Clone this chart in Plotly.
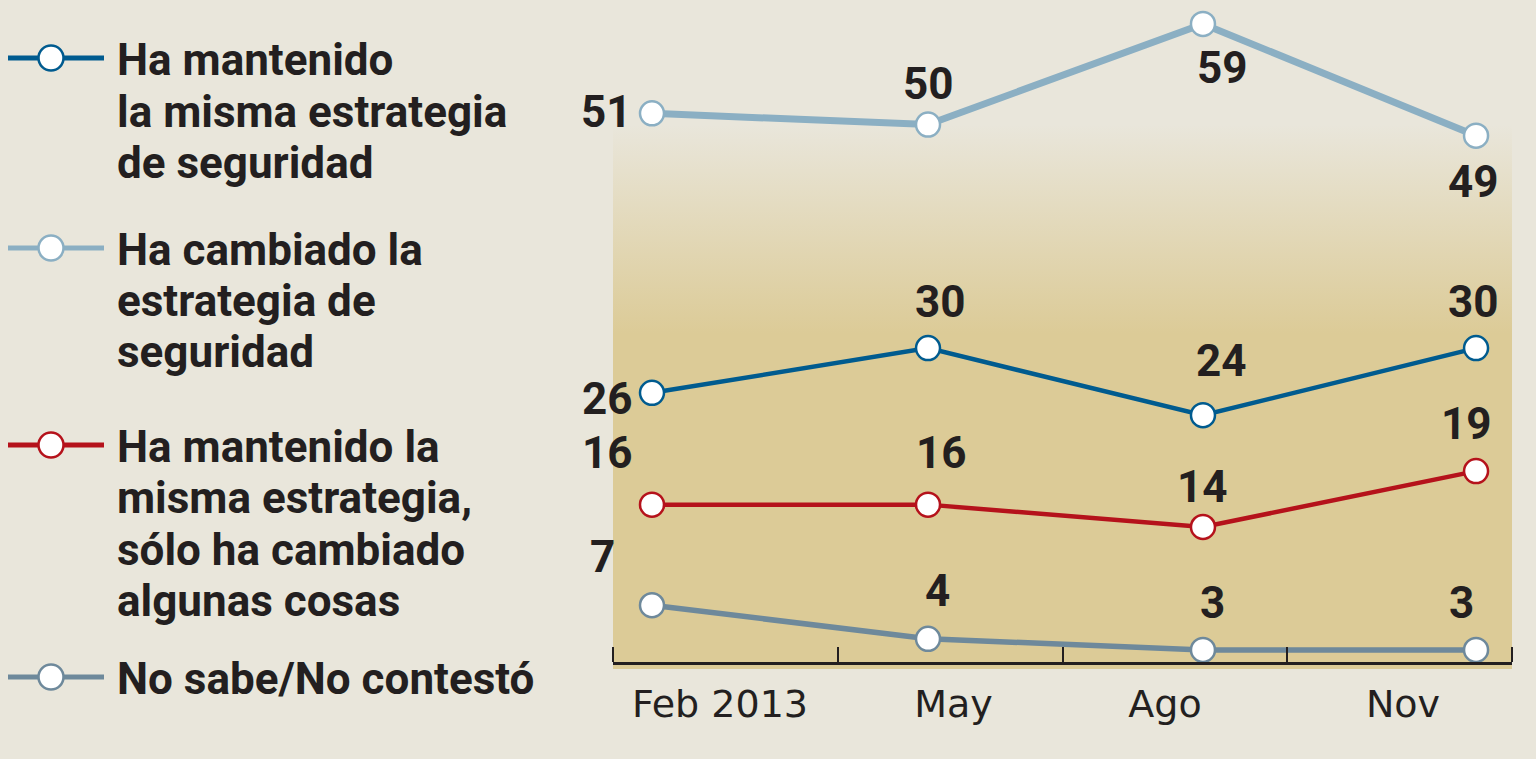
import plotly.graph_objects as go

# ---------------- data ----------------
periods = ["Feb 2013", "May", "Ago", "Nov"]
survey_pos = [0.1735, 1.4016, 2.625, 3.84]      # survey timing on the quarter axis
label_pos = [0.476, 1.515, 2.456, 3.515]        # where period names sit
quarter_edges = [0, 1, 2, 3, 4]

mantenido = [26, 30, 24, 30]
cambiado = [51, 50, 59, 49]
algunas = [16, 16, 14, 19]
no_sabe = [7, 4, 3, 3]

legend_mantenido = ["Ha mantenido", "la misma estrategia", "de seguridad"]
legend_cambiado = ["Ha cambiado la", "estrategia de", "seguridad"]
legend_algunas = ["Ha mantenido la", "misma estrategia,", "sólo ha cambiado", "algunas cosas"]
legend_no_sabe = ["No sabe/No contestó"]

# ---------------- style ----------------
BG = "#E9E6DB"
BAND = "#DCCB97"
INK = "#231F20"
W, H = 1536, 759
ML, MR, MT, MB = 613, 24, 0, 97
PW, PH = W - ML - MR, H - MT - MB
Y_RANGE = [1.923, 61.14]
NUM_FONT = dict(family="Roboto", size=44, color=INK, weight="bold")

series = [
    dict(name=" ".join(legend_cambiado), vals=cambiado, color="#8BAFC3", width=7,
         offs=[(-45, 1), (0, 41), (20, -44), (-3, -46)],
         legend=legend_cambiado, leg_y=248, txt_y=[250, 301, 352]),
    dict(name=" ".join(legend_mantenido), vals=mantenido, color="#005B8F", width=4.5,
         offs=[(-44, -6), (12, 46), (19, 54), (-3, 46)],
         legend=legend_mantenido, leg_y=58, txt_y=[60, 112, 163]),
    dict(name=" ".join(legend_algunas), vals=algunas, color="#B5121B", width=4.5,
         offs=[(-44, 52), (13, 52), (0, 40), (-10, 47)],
         legend=legend_algunas, leg_y=445, txt_y=[447, 498, 550, 601]),
    dict(name=" ".join(legend_no_sabe), vals=no_sabe, color="#6E899B", width=5.5,
         offs=[(-49, 48), (9, 48), (10, 47), (-15, 47)],
         legend=legend_no_sabe, leg_y=677, txt_y=[679]),
]


def px_x(p):
    return (p - ML) / PW


def px_y(p):
    return (H - MB - p) / PH


fig = go.Figure()

# shaded band behind the lines
band_y = [1.3, 1.3, 50.0, 50.0, 1.3]
fig.add_trace(go.Scatter(
    x=[0, 4, 4, 0, 0], y=band_y, mode="none", fill="toself",
    fillgradient=dict(type="vertical", colorscale=[[0, BAND], [1, BG]], start=31.3, stop=50.0),
    hoverinfo="skip", showlegend=False))

annotations = []
shapes = [
    # band continues a little below the axis line
    dict(type="rect", xref="paper", yref="paper", x0=0, x1=1, y0=-7 / PH, y1=0,
         fillcolor=BAND, line=dict(width=0), layer="below"),
]

for s in series:
    fig.add_trace(go.Scatter(
        x=survey_pos, y=s["vals"], mode="lines+markers", name=s["name"],
        line=dict(color=s["color"], width=s["width"]),
        marker=dict(size=24, color="white", line=dict(color=s["color"], width=2.5)),
        showlegend=False, cliponaxis=False))
    for xv, yv, (dx, dy) in zip(survey_pos, s["vals"], s["offs"]):
        annotations.append(dict(x=xv, y=yv, xref="x", yref="y", text=str(yv),
                                showarrow=False, xshift=dx, yshift=dy,
                                xanchor="center", yanchor="middle", font=NUM_FONT))
    # custom legend entry
    shapes.append(dict(type="line", xref="paper", yref="paper",
                       x0=px_x(8), x1=px_x(104), y0=px_y(s["leg_y"]), y1=px_y(s["leg_y"]),
                       line=dict(color=s["color"], width=5)))
    shapes.append(dict(type="circle", xref="paper", yref="paper",
                       xsizemode="pixel", ysizemode="pixel",
                       xanchor=px_x(51), yanchor=px_y(s["leg_y"]),
                       x0=-12.5, x1=12.5, y0=-12.5, y1=12.5,
                       fillcolor="white", line=dict(color=s["color"], width=2.5)))
    for line_text, ty in zip(s["legend"], s["txt_y"]):
        annotations.append(dict(x=px_x(115), y=px_y(ty), xref="paper", yref="paper",
                                text=line_text, showarrow=False, xanchor="left",
                                yanchor="middle", font=NUM_FONT))

fig.update_layout(
    width=W, height=H, autosize=False,
    margin=dict(l=ML, r=MR, t=MT, b=MB, pad=0),
    paper_bgcolor=BG, plot_bgcolor=BG,
    showlegend=False,
    annotations=annotations, shapes=shapes,
    xaxis=dict(range=[0, 4], showgrid=False, zeroline=False,
               showline=True, linecolor=INK, linewidth=2.5,
               tickmode="array", tickvals=label_pos, ticktext=periods, ticks="",
               tickfont=dict(family="DejaVu Sans", size=38, color=INK),
               ticklabelstandoff=7,
               minor=dict(tickmode="array", tickvals=quarter_edges, ticks="inside",
                          ticklen=15, tickwidth=2, tickcolor=INK, showgrid=False)),
    yaxis=dict(range=Y_RANGE, visible=False, showgrid=False, zeroline=False),
)

fig.write_html("out.html")
